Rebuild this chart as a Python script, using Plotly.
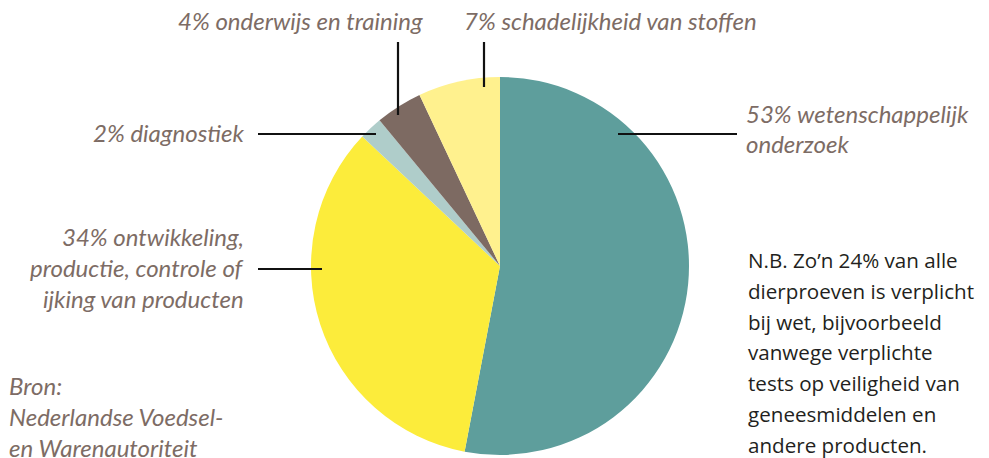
import plotly.graph_objects as go

# window size and page offset (browser body margin)
WIN_W, WIN_H, OFF = 989, 458, 8
W, H = WIN_W - OFF, WIN_H - OFF

# Data
categories = ["wetenschappelijk onderzoek",
              "ontwikkeling, productie, controle of ijking van producten",
              "diagnostiek", "onderwijs en training", "schadelijkheid van stoffen"]
values = [53, 34, 2, 4, 7]
colors = ["#5e9e9c", "#fcec3b", "#afcdca", "#7d6a62", "#fff18e"]

label_lines = {
    "53": ["53% wetenschappelijk", "onderzoek"],
    "34": ["34% ontwikkeling,", "productie, controle of", "ijking van producten"],
    "2": ["2% diagnostiek"],
    "4": ["4% onderwijs en training"],
    "7": ["7% schadelijkheid van stoffen"],
}
source_lines = ["Bron:", "Nederlandse Voedsel-", "en Warenautoriteit"]
note_lines = ["N.B. Zo’n 24% van alle", "dierproeven is verplicht", "bij wet, bijvoorbeeld",
              "vanwege verplichte", "tests op veiligheid van", "geneesmiddelen en",
              "andere producten."]


def px(x):
    return (x - OFF) / W


def py(y):
    return 1 - (y - OFF) / H


cx, cy, r = 500, 266, 189

fig = go.Figure(go.Pie(
    labels=categories, values=values, sort=False, direction="clockwise", rotation=0,
    marker=dict(colors=colors, line=dict(width=0)),
    textinfo="none", hoverinfo="label+percent", showlegend=False,
    domain=dict(x=[px(cx - r), px(cx + r)], y=[py(cy + r), py(cy - r)]),
))

LABEL_FONT = dict(family="Lato", size=24, color="#7d6c65")
NOTE_FONT = dict(family="Open Sans", size=20.6, color="#231f20")

annotations = []


def add_lines(lines, x, y0, dy, anchor, font, italic=True):
    for i, t in enumerate(lines):
        txt = f"<i>{t}</i>" if italic else t
        annotations.append(dict(text=txt, x=px(x), y=py(y0 + i * dy), xref="paper", yref="paper",
                                xanchor=anchor, yanchor="middle", showarrow=False, font=font,
                                borderpad=0))


add_lines(label_lines["4"], 424, 21, 30, "right", LABEL_FONT)
add_lines(label_lines["7"], 463, 21, 30, "left", LABEL_FONT)
add_lines(label_lines["2"], 246, 132, 30, "right", LABEL_FONT)
add_lines(label_lines["53"], 745, 114, 30, "left", LABEL_FONT)
add_lines(label_lines["34"], 245, 237, 30.5, "right", LABEL_FONT)
add_lines(source_lines, 8, 385, 31, "left", LABEL_FONT)
add_lines(note_lines, 747, 260, 30.8, "left", NOTE_FONT, italic=False)

leaders = [
    (618, 134, 737, 134),
    (258, 269, 322, 269),
    (258, 134, 376, 134),
    (398, 42, 398, 115),
    (484, 42, 484, 87),
]
shapes = [dict(type="line", xref="paper", yref="paper", x0=px(a), y0=py(b), x1=px(c), y1=py(d),
               line=dict(color="#111111", width=2.2)) for a, b, c, d in leaders]

fig.update_layout(width=W, height=H, margin=dict(l=0, r=0, t=0, b=0),
                  paper_bgcolor="white", plot_bgcolor="white",
                  annotations=annotations, shapes=shapes)

fig.write_html("out.html")
